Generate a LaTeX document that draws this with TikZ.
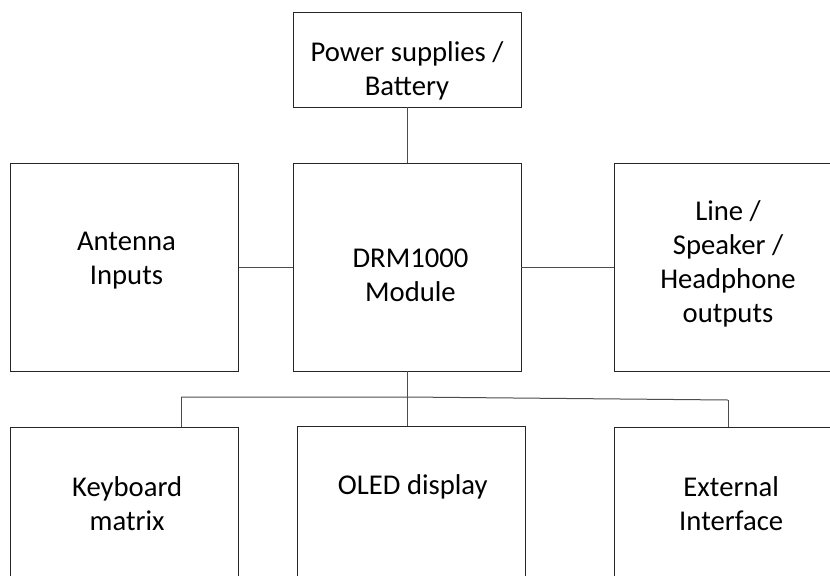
\documentclass[tikz,border=0pt]{standalone}
\usepackage{fontspec}
\setmainfont{Carlito}
\tikzset{
  blk/.style={draw=black!85, line width=0.75pt, minimum width=171pt, minimum height=156pt, inner sep=0pt, outer sep=0pt},
  txt/.style={align=center, font=\fontsize{21.5}{25.5}\selectfont, inner sep=0pt},
  wire/.style={draw=black!70, line width=0.75pt},
}
\begin{document}
\begin{tikzpicture}[x=0.75pt, y=-0.75pt]
    \clip (0,0) rectangle (830,575);

    % Blocks
    \node[blk, minimum height=71.25pt, label={[txt, yshift=-8.6pt]center:{Power supplies /\\Battery}}] (pwr) at (407,59.5) {};
    \node[blk, label={[txt, xshift=1.5pt, yshift=4.9pt]center:{Antenna\\Inputs}}] (ant) at (124.5,267) {};
    \node[blk, label={[txt, xshift=2.6pt, yshift=-6.5pt]center:{DRM1000\\Module}}] (drm) at (407,267) {};
    \node[blk, label={[txt, yshift=2.3pt]center:{Line /\\Speaker /\\Headphone\\outputs}}] (outs) at (728,267) {};
    \node[blk, label={[txt, xshift=2pt, yshift=20.6pt]center:{Keyboard\\matrix}}] (kbd) at (124.5,531) {};
    \node[blk, label={[txt, xshift=1pt, yshift=32.6pt]center:{OLED display}}] (oled) at (411.5,530) {};
    \node[blk, label={[txt, xshift=2pt, yshift=20.6pt]center:{External\\Interface}}] (ext) at (728.5,531) {};

    % Bus below the module
    \coordinate (busM) at (407,397);
    \coordinate (busL) at (181,397);
    \coordinate (busR) at (728,400);

    \draw[wire] (pwr) -- (drm);
    \draw[wire] (ant) -- (drm);
    \draw[wire] (drm) -- (outs);
    \draw[wire] (drm) -- (busM);
    \draw[wire] (busL) -- (busM) -- (busR);
    \draw[wire] (busL) -- (busL |- kbd.north);
    \draw[wire] (busM) -- (busM |- oled.north);
    \draw[wire] (busR) -- (busR |- ext.north);
\end{tikzpicture}
\end{document}
